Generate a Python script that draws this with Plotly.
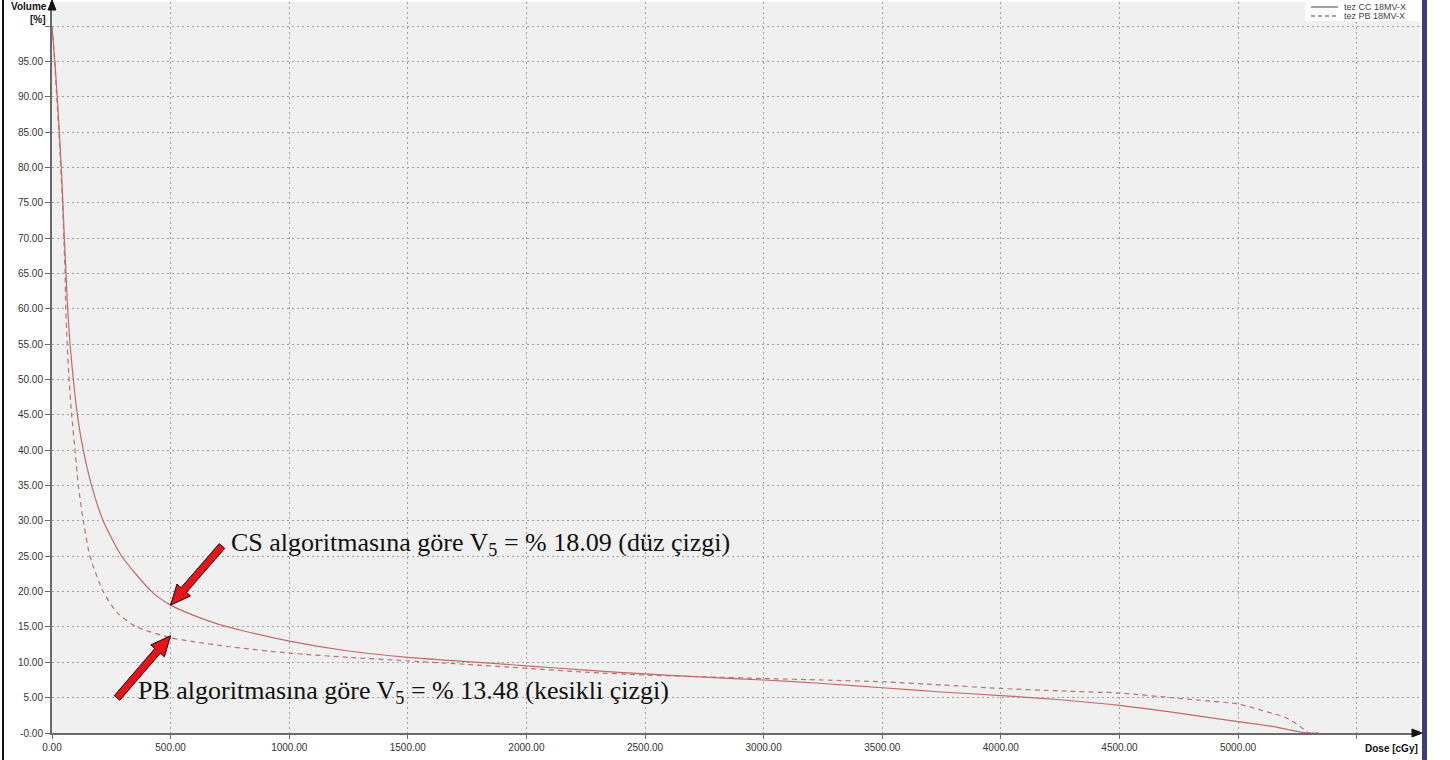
import plotly.graph_objects as go

# Dose-volume histogram, two dose calculation algorithms (18 MV photons)
dose_cc = [0, 12, 22, 31, 39, 46, 52, 59, 66, 76, 90, 107, 132, 167, 216, 294, 420, 500,
           600, 700, 800, 1000, 1250, 1500, 1750, 2000, 2250, 2500, 2750, 3000, 3250,
           3500, 3750, 4000, 4250, 4500, 4750, 5000, 5150, 5290, 5340]
vol_cc = [100, 95, 90, 85, 80, 75, 70, 65, 60, 55, 50, 45, 40, 35, 30, 25, 20, 18.09,
          16.6, 15.4, 14.5, 13.0, 11.6, 10.7, 10.1, 9.5, 8.9, 8.35, 7.9, 7.5, 7.0,
          6.4, 5.8, 5.3, 4.7, 3.9, 2.8, 1.6, 0.9, 0.0, 0.0]

dose_pb = [0, 11, 20, 29, 37, 44, 50, 55, 58, 64, 72, 83, 97, 111, 132, 160, 216, 275, 357,
           500, 600, 750, 1000, 1250, 1500, 1750, 2000, 2250, 2500, 2750, 3000, 3250,
           3500, 3750, 4000, 4250, 4500, 4750, 5000, 5100, 5200, 5250, 5300, 5340]
vol_pb = [100, 95, 90, 85, 80, 75, 70, 65, 60, 55, 50, 45, 40, 35, 30, 25, 20, 17, 15,
          13.48, 12.9, 12.2, 11.3, 10.7, 10.2, 9.7, 9.15, 8.6, 8.2, 7.95, 7.7, 7.5,
          7.25, 6.8, 6.3, 5.95, 5.65, 4.9, 4.1, 3.2, 2.2, 1.2, 0.0, 0.0]

series_names = ["tez CC 18MV-X", "tez PB 18MV-X"]

x_ticks = [0, 500, 1000, 1500, 2000, 2500, 3000, 3500, 4000, 4500, 5000]
x_labels = ["0.00", "500.00", "1000.00", "1500.00", "2000.00", "2500.00", "3000.00",
            "3500.00", "4000.00", "4500.00", "5000.00"]
x_extra_grid = [5500]
y_ticks = list(range(0, 100, 5))
y_labels = ["-0.00"] + [f"{v:.2f}" for v in y_ticks[1:]]
y_extra_grid = [100]

v5_cs = 18.09
v5_pb = 13.48
v5_dose = 500

# canvas geometry (pixels)
W, H = 1450, 760
ML, MR, MT, MB = 52, 30, 2, 27
PW, PH = W - ML - MR, H - MT - MB
X_MAX, Y_MAX = 5767, 103.4


def px_to_paper(px, py):
    return (px - ML) / PW, (H - MB - py) / PH


def data_to_px(x, y):
    return ML + x / X_MAX * PW, H - MB - y / Y_MAX * PH


def path_from_px(points):
    parts = []
    for i, (px, py) in enumerate(points):
        xp, yp = px_to_paper(px, py)
        parts.append(("M" if i == 0 else "L") + f"{xp:.5f},{yp:.5f}")
    return " ".join(parts) + " Z"


def block_arrow(tail, tip, head_len=20, head_half=9, shaft_half=3.6):
    sx, sy = tail
    tx, ty = tip
    dx, dy = tx - sx, ty - sy
    L = (dx * dx + dy * dy) ** 0.5
    ux, uy = dx / L, dy / L
    nx, ny = -uy, ux
    bx, by = tx - ux * head_len, ty - uy * head_len
    pts = [
        (sx + nx * shaft_half, sy + ny * shaft_half),
        (bx + nx * shaft_half, by + ny * shaft_half),
        (bx + nx * head_half, by + ny * head_half),
        (tx, ty),
        (bx - nx * head_half, by - ny * head_half),
        (bx - nx * shaft_half, by - ny * shaft_half),
        (sx - nx * shaft_half, sy - ny * shaft_half),
    ]
    return path_from_px(pts)


fig = go.Figure()
fig.add_trace(go.Scatter(x=dose_cc, y=vol_cc, mode="lines", name=series_names[0],
                         line=dict(color="#c46868", width=1.2, shape="spline", smoothing=0.6),
                         showlegend=False))
fig.add_trace(go.Scatter(x=dose_pb, y=vol_pb, mode="lines", name=series_names[1],
                         line=dict(color="#b87272", width=1.2, dash="5px,4px",
                                   shape="spline", smoothing=0.6),
                         showlegend=False))

grid_style = dict(showgrid=True, gridcolor="#a0a0a0", griddash="2px,3px", gridwidth=1)
tick_font = dict(family="Liberation Sans, Arial, sans-serif", size=10, color="#333333")
fig.update_xaxes(range=[0, X_MAX], tickvals=x_ticks, ticktext=x_labels, **grid_style,
                 minor=dict(tickvals=x_extra_grid, ticks="outside", ticklen=4,
                            tickcolor="#6a6a6a", **grid_style),
                 showline=True, linecolor="#6a6a6a", linewidth=2,
                 ticks="outside", ticklen=4, tickcolor="#6a6a6a",
                 tickfont=tick_font, zeroline=False, fixedrange=True)
fig.update_yaxes(range=[0, Y_MAX], tickvals=y_ticks, ticktext=y_labels, **grid_style,
                 minor=dict(tickvals=y_extra_grid, ticks="outside", ticklen=5,
                            tickcolor="#6a6a6a", **grid_style),
                 showline=True, linecolor="#6a6a6a", linewidth=2,
                 ticks="outside", ticklen=5, tickcolor="#6a6a6a",
                 tickfont=tick_font, zeroline=False, fixedrange=True)

shapes = []
# window frame: black edge on the left, navy bar on the right
x0p, _ = px_to_paper(2, 0)
x1p, _ = px_to_paper(4, 0)
_, ytop = px_to_paper(0, 0)
_, ybot = px_to_paper(0, H)
shapes.append(dict(type="rect", xref="paper", yref="paper", x0=x0p, x1=x1p, y0=ybot, y1=ytop,
                   fillcolor="#111111", line=dict(width=0), layer="above"))
x0p, _ = px_to_paper(1422, 0)
x1p, _ = px_to_paper(1427, 0)
shapes.append(dict(type="rect", xref="paper", yref="paper", x0=x0p, x1=x1p, y0=ybot, y1=ytop,
                   fillcolor="#3a3f7a", line=dict(width=0), layer="above"))

# axis arrowheads
shapes.append(dict(type="path", xref="paper", yref="paper",
                   path=path_from_px([(1412, 729), (1422, 733), (1412, 737)]),
                   fillcolor="#111111", line=dict(color="#111111", width=1), layer="above"))
shapes.append(dict(type="path", xref="paper", yref="paper",
                   path=path_from_px([(48, 10), (52, 0), (56, 10)]),
                   fillcolor="#111111", line=dict(color="#111111", width=1), layer="above"))

# legend box
lx0, ly1 = px_to_paper(1305, 0)
lx1, ly0 = px_to_paper(1421, 21)
shapes.append(dict(type="rect", xref="paper", yref="paper", x0=lx0, x1=lx1, y0=ly0, y1=ly1,
                   fillcolor="white", line=dict(width=0), layer="above"))
for py, dash in [(7, "solid"), (16, "4px,3px")]:
    a0, b0 = px_to_paper(1311, py)
    a1, _ = px_to_paper(1338, py)
    shapes.append(dict(type="line", xref="paper", yref="paper", x0=a0, x1=a1, y0=b0, y1=b0,
                       line=dict(color="#444444", width=1, dash=dash), layer="above"))

# red arrows pointing at V5 of each curve
tip_cs = data_to_px(v5_dose, v5_cs)
tip_pb = data_to_px(v5_dose, v5_pb)
for tail, tip in [((222, 546), tip_cs), ((117, 698), (tip_pb[0], tip_pb[1] - 2))]:
    shapes.append(dict(type="path", xref="paper", yref="paper",
                       path=block_arrow(tail, tip),
                       fillcolor="#e5141b", line=dict(color="#2a0000", width=1),
                       layer="above"))

annotations = []
for py, name in [(7, series_names[0]), (16, series_names[1])]:
    ax_, ay_ = px_to_paper(1342, py)
    annotations.append(dict(xref="paper", yref="paper", x=ax_, y=ay_, text=name,
                            showarrow=False, xanchor="left", yanchor="middle",
                            font=dict(family="Liberation Sans, Arial, sans-serif",
                                      size=9, color="#444444")))

bold_font = dict(family="Liberation Sans, Arial, sans-serif", size=10, color="#111111")
for px, py, txt, anchor in [(49, 6, "<b>Volume</b>", "right"), (48, 19, "<b>[%]</b>", "right"),
                            (1420, 748, "<b>Dose [cGy]</b>", "right")]:
    ax_, ay_ = px_to_paper(px, py)
    annotations.append(dict(xref="paper", yref="paper", x=ax_, y=ay_, text=txt,
                            showarrow=False, xanchor=anchor, yanchor="middle", font=bold_font))

note_font = dict(family="Liberation Serif, Times New Roman, serif", size=26, color="#111111")
ax_, ay_ = px_to_paper(229, 544)
annotations.append(dict(xref="paper", yref="paper", x=ax_, y=ay_,
                        text=f"CS algoritmasına göre V<sub>5</sub> = % {v5_cs:.2f} (düz çizgi)",
                        showarrow=False, xanchor="left", yanchor="middle", font=note_font))
ax_, ay_ = px_to_paper(136, 692)
annotations.append(dict(xref="paper", yref="paper", x=ax_, y=ay_,
                        text=f"PB algoritmasına göre V<sub>5</sub> = % {v5_pb:.2f} (kesikli çizgi)",
                        showarrow=False, xanchor="left", yanchor="middle", font=note_font))

fig.update_layout(width=W, height=H, margin=dict(l=ML, r=MR, t=MT, b=MB),
                  paper_bgcolor="white", plot_bgcolor="#f0f0f0",
                  shapes=shapes, annotations=annotations, showlegend=False)

fig.write_html("out.html", config={"displayModeBar": False})
